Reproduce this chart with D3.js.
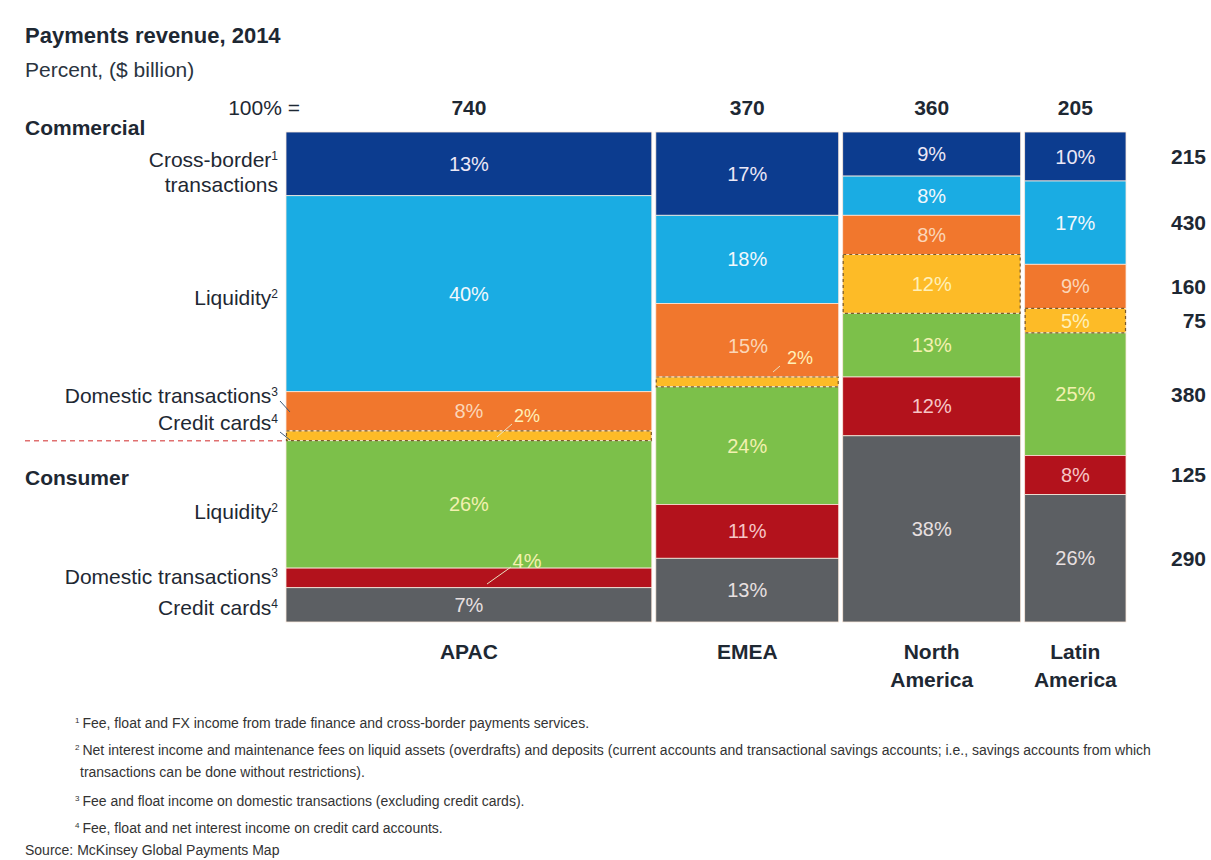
<!DOCTYPE html>
<html>
<head>
<meta charset="utf-8">
<script src="https://cdn.jsdelivr.net/npm/d3@7"></script>
<style>
  body { margin: 0; background: #fff; }
  svg text { font-family: "Liberation Sans", Arial, sans-serif; }
</style>
</head>
<body>
<div id="chart"></div>
<script>
// regions (columns) and their size in $ billion (100% =)
const regions = ["APAC", "EMEA", "North America", "Latin America"]
const regionTotals = [740, 370, 360, 205]

// segments, top to bottom
const segments = ["Cross-border", "Liquidity", "Domestic transactions", "Credit cards",
                  "Liquidity", "Domestic transactions", "Credit cards"]
const segmentGroup = ["Commercial", "Commercial", "Commercial", "Commercial",
                      "Consumer", "Consumer", "Consumer"]
// global total per segment, $ billion (right hand column)
const segmentTotals = [215, 430, 160, 75, 380, 125, 290]

// share of each segment in a region, percent
const apacShares  = [13, 40, 8, 2, 26, 4, 7]
const emeaShares  = [17, 18, 15, 2, 24, 11, 13]
const naShares    = [9, 8, 8, 12, 13, 12, 38]
const latamShares = [10, 17, 9, 5, 25, 8, 26]
const shares = [apacShares, emeaShares, naShares, latamShares]

const footnotes = [
  ["1", "Fee, float and FX income from trade finance and cross-border payments services."],
  ["2", "Net interest income and maintenance fees on liquid assets (overdrafts) and deposits (current accounts and transactional savings accounts; i.e., savings accounts from which",
        "transactions can be done without restrictions)."],
  ["3", "Fee and float income on domestic transactions (excluding credit cards)."],
  ["4", "Fee, float and net interest income on credit card accounts."]
]

const colors = ["#0c3c8f", "#1aace3", "#f1772d", "#fdbb27", "#7cc04a", "#b3121c", "#5c5f63"]
const labelColors = ["#ece8f6", "#f2f8fc", "#fbd6b8", "#fff0b8", "#f3f1b0", "#f6c6c6", "#e8e0e0"]

const width = 1211
const height = 860
const plot = {left: 286, right: 1126, top: 132, bottom: 622}
const gap = 4
const ink = "#1e2833"

const svg = d3.select("#chart").append("svg")
    .attr("width", width)
    .attr("height", height)

const grand = d3.sum(regionTotals)
const x = d3.scaleLinear()
    .domain([0, grand])
    .range([0, plot.right - plot.left - gap * (regions.length - 1)])
const y = d3.scaleLinear()
    .domain([0, 100])
    .range([plot.top, plot.bottom])

// build the cells
const columns = regions.map((r, i) => {
  const start = d3.sum(regionTotals.slice(0, i))
  const x0 = plot.left + x(start) + i * gap
  const x1 = x0 + x(regionTotals[i])
  let acc = 0
  const cells = shares[i].map((v, j) => {
    const c = {region: i, seg: j, value: v, x0, x1, y0: y(acc), y1: y(acc + v)}
    acc += v
    return c
  })
  return {name: r, total: regionTotals[i], x0, x1, cells}
})
const cells = columns.flatMap(c => c.cells)

svg.append("g").selectAll("rect")
  .data(cells)
  .join("rect")
    .attr("x", d => d.x0)
    .attr("y", d => d.y0)
    .attr("width", d => d.x1 - d.x0)
    .attr("height", d => d.y1 - d.y0)
    .attr("fill", d => colors[d.seg])
    .attr("stroke", "#fbe9dc")
    .attr("stroke-width", 0.8)

// dashed outline round the commercial credit-card band
svg.append("g").selectAll("rect")
  .data(cells.filter(d => d.seg === 3))
  .join("rect")
    .attr("x", d => d.x0 + 0.5)
    .attr("y", d => d.y0)
    .attr("width", d => d.x1 - d.x0 - 1)
    .attr("height", d => d.y1 - d.y0)
    .attr("fill", "none")
    .attr("stroke", "#7a5a2a")
    .attr("stroke-width", 1.2)
    .attr("stroke-dasharray", "3,3")

// labels that do not fit inside their cell
const moved = {
  "0-3": {x: 527, y: 416, from: [497, 437], to: [512, 424]},
  "0-5": {x: 527, y: 561, from: [487, 584], to: [511, 567]},
  "1-2": {x: 748, y: 346},
  "1-3": {x: 800, y: 358, from: [773, 372], to: [780, 366]}
}

cells.forEach(d => {
  const m = moved[d.region + "-" + d.seg]
  if (m && m.from) {
    svg.append("line")
      .attr("x1", m.from[0]).attr("y1", m.from[1])
      .attr("x2", m.to[0]).attr("y2", m.to[1])
      .attr("stroke", "#e9e2c0")
      .attr("stroke-width", 1)
  }
})

svg.append("g").selectAll("text")
  .data(cells)
  .join("text")
    .attr("x", d => { const m = moved[d.region + "-" + d.seg]; return m ? m.x : (d.x0 + d.x1) / 2 })
    .attr("y", d => { const m = moved[d.region + "-" + d.seg]; return m ? m.y : (d.y0 + d.y1) / 2 })
    .attr("dy", "0.35em")
    .attr("text-anchor", "middle")
    .attr("font-size", d => d.seg === 3 && d.value < 5 ? 18 : 20)
    .attr("fill", d => {
      const m = moved[d.region + "-" + d.seg]
      if (m && d.seg === 5) return labelColors[4]
      return labelColors[d.seg]
    })
    .text(d => d.value + "%")

// 100% = header
svg.append("text")
  .attr("x", 300).attr("y", 108)
  .attr("dy", "0.35em")
  .attr("text-anchor", "end")
  .attr("font-size", 21)
  .attr("fill", ink)
  .text("100% =")

svg.append("g").selectAll("text")
  .data(columns)
  .join("text")
    .attr("x", d => (d.x0 + d.x1) / 2)
    .attr("y", 108)
    .attr("dy", "0.35em")
    .attr("text-anchor", "middle")
    .attr("font-size", 21)
    .attr("font-weight", "bold")
    .attr("fill", ink)
    .text(d => d.total)

// region names
svg.append("g").selectAll("text")
  .data(columns)
  .join("text")
    .attr("x", d => (d.x0 + d.x1) / 2)
    .attr("y", 652)
    .attr("text-anchor", "middle")
    .attr("font-size", 21)
    .attr("font-weight", "bold")
    .attr("fill", ink)
    .selectAll("tspan")
    .data(d => d.name.split(" "))
    .join("tspan")
      .attr("x", function() { return this.parentNode.getAttribute("x") })
      .attr("dy", (d, i) => i ? "1.3em" : "0.35em")
      .text(d => d)

// totals on the right, centred on the Latin America cells
const last = columns[columns.length - 1].cells
svg.append("g").selectAll("text")
  .data(segmentTotals)
  .join("text")
    .attr("x", 1206)
    .attr("y", (d, i) => (last[i].y0 + last[i].y1) / 2)
    .attr("dy", "0.35em")
    .attr("text-anchor", "end")
    .attr("font-size", 21)
    .attr("font-weight", "bold")
    .attr("fill", ink)
    .text(d => d)

// left hand labels
const leftLabels = [
  {text: "Cross-border", note: "1", y: 160},
  {text: "transactions", note: "", y: 185},
  {text: "Liquidity", note: "2", y: 298},
  {text: "Domestic transactions", note: "3", y: 396},
  {text: "Credit cards", note: "4", y: 423},
  {text: "Liquidity", note: "2", y: 512},
  {text: "Domestic transactions", note: "3", y: 577},
  {text: "Credit cards", note: "4", y: 608}
]
const ll = svg.append("g").selectAll("text")
  .data(leftLabels)
  .join("text")
    .attr("x", 278)
    .attr("y", d => d.y)
    .attr("dy", "0.35em")
    .attr("text-anchor", "end")
    .attr("font-size", 21)
    .attr("fill", ink)
ll.append("tspan").text(d => d.text)
ll.append("tspan")
    .attr("font-size", 12)
    .attr("dy", "-0.6em")
    .text(d => d.note)

// leaders from the commercial domestic / credit-card labels
svg.append("line").attr("x1", 280).attr("y1", 401).attr("x2", 290).attr("y2", 412)
  .attr("stroke", "#3a5a78").attr("stroke-width", 1)
svg.append("line").attr("x1", 280).attr("y1", 432).attr("x2", 290).attr("y2", 440)
  .attr("stroke", "#3a5a78").attr("stroke-width", 1)

svg.append("text").attr("x", 25).attr("y", 135)
  .attr("font-size", 21).attr("font-weight", "bold").attr("fill", ink)
  .text("Commercial")
svg.append("text").attr("x", 25).attr("y", 485)
  .attr("font-size", 21).attr("font-weight", "bold").attr("fill", ink)
  .text("Consumer")

// commercial / consumer divider
svg.append("line")
  .attr("x1", 25).attr("x2", plot.left - 2)
  .attr("y1", y(d3.sum(apacShares.slice(0, 4)))).attr("y2", y(d3.sum(apacShares.slice(0, 4))))
  .attr("stroke", "#e07070")
  .attr("stroke-width", 1.5)
  .attr("stroke-dasharray", "5,4")

// title
svg.append("text").attr("x", 25).attr("y", 43)
  .attr("font-size", 22).attr("font-weight", "bold").attr("fill", ink)
  .text("Payments revenue, 2014")
svg.append("text").attr("x", 25).attr("y", 77)
  .attr("font-size", 21).attr("fill", "#2a3440")
  .text("Percent, ($ billion)")

// footnotes
let fy = 726
footnotes.forEach(f => {
  const t = svg.append("text").attr("x", 75).attr("y", fy)
    .attr("font-size", 14).attr("fill", "#333")
  t.append("tspan").attr("font-size", 8).attr("dy", "-0.4em").text(f[0])
  t.append("tspan").attr("dy", "0.4em").attr("dx", 3).text(f[1])
  if (f[2]) {
    fy += 24
    svg.append("text").attr("x", 80).attr("y", fy)
      .attr("font-size", 14).attr("fill", "#333")
      .text(f[2])
  }
  fy += 27
})
svg.append("text").attr("x", 25).attr("y", 855)
  .attr("font-size", 14).attr("fill", "#333")
  .text("Source: McKinsey Global Payments Map")
</script>
</body>
</html>
